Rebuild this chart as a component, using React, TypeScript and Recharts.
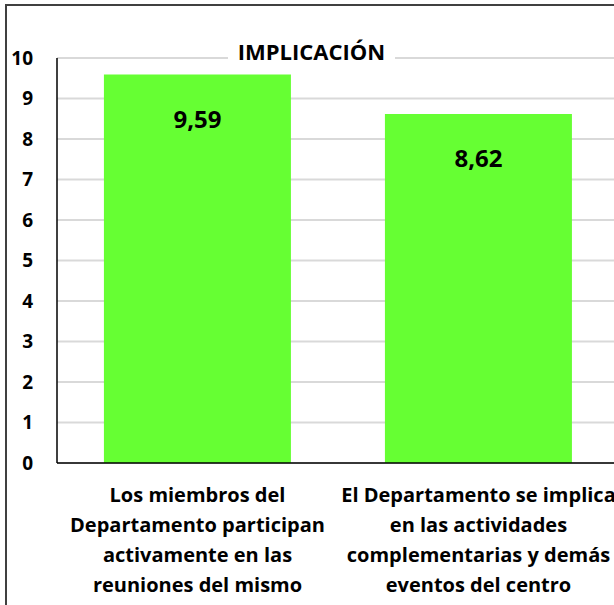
import React from "react";
import { BarChart, Bar, XAxis, YAxis, CartesianGrid, LabelList } from "recharts";

const categories: string[] = [
  "Los miembros del\nDepartamento participan\nactivamente en las\nreuniones del mismo",
  "El Departamento se implica\nen las actividades\ncomplementarias y demás\neventos del centro",
];
const values: number[] = [9.59, 8.62];
const yTicks: number[] = [0, 1, 2, 3, 4, 5, 6, 7, 8, 9, 10];
const title = "IMPLICACIÓN";

const data = categories.map((c, i) => ({ name: c, value: values[i] }));

const FONT = "'Open Sans', Lato, sans-serif";

const XTick = (props: any) => {
  const { x, y, payload } = props;
  const lines = String(payload.value).split("\n");
  return (
    <g>
      {lines.map((l, i) => (
        <text
          key={i}
          x={x}
          y={y + 39 + i * 30}
          textAnchor="middle"
          fontFamily={FONT}
          fontWeight={700}
          fontSize={20}
          fill="#000"
        >
          {l}
        </text>
      ))}
    </g>
  );
};

const ValueLabel = (props: any) => {
  const { x, y, width, value } = props;
  return (
    <text
      x={x + width / 2}
      y={y + 53}
      textAnchor="middle"
      fontFamily={FONT}
      fontWeight={700}
      fontSize={24}
      fill="#000"
    >
      {Number(value).toFixed(2).replace(".", ",")}
    </text>
  );
};

export default function App() {
  return (
    <div
      style={{
        position: "absolute",
        left: 0,
        top: 0,
        width: 614,
        height: 605,
        overflow: "hidden",
        background: "#fff",
      }}
    >
      <div
        style={{
          position: "absolute",
          left: 5,
          top: 4,
          width: 700,
          height: 700,
          borderLeft: "2px solid #404040",
          borderTop: "2px solid #404040",
        }}
      />
      <div style={{ position: "absolute", left: 0, top: 0 }}>
        <BarChart
          width={700}
          height={605}
          data={data}
          margin={{ top: 58, right: 81, bottom: 12, left: 0 }}
          barCategoryGap="16.7%"
        >
          <CartesianGrid vertical={false} stroke="#d9d9d9" strokeWidth={2} />
          <XAxis
            dataKey="name"
            height={130}
            tickSize={0}
            tickMargin={0}
            interval={0}
            tick={<XTick />}
            axisLine={{ stroke: "#000", strokeWidth: 1.5 }}
          />
          <YAxis
            width={57}
            domain={[0, 10]}
            ticks={yTicks}
            interval={0}
            tickSize={0}
            tickMargin={24}
            tickLine={false}
            axisLine={{ stroke: "#000", strokeWidth: 1.5 }}
            tick={{ fontFamily: FONT, fontWeight: 700, fontSize: 19, fill: "#000" }}
          />
          <Bar dataKey="value" fill="#66FF33" isAnimationActive={false}>
            <LabelList dataKey="value" content={<ValueLabel />} />
          </Bar>
        </BarChart>
      </div>
      <div
        style={{
          position: "absolute",
          left: 228,
          top: 37,
          width: 167,
          height: 28,
          background: "#fff",
          textAlign: "center",
          fontFamily: FONT,
          fontWeight: 700,
          fontSize: 22,
          lineHeight: "28px",
          color: "#000",
        }}
      >
        {title}
      </div>
    </div>
  );
}
